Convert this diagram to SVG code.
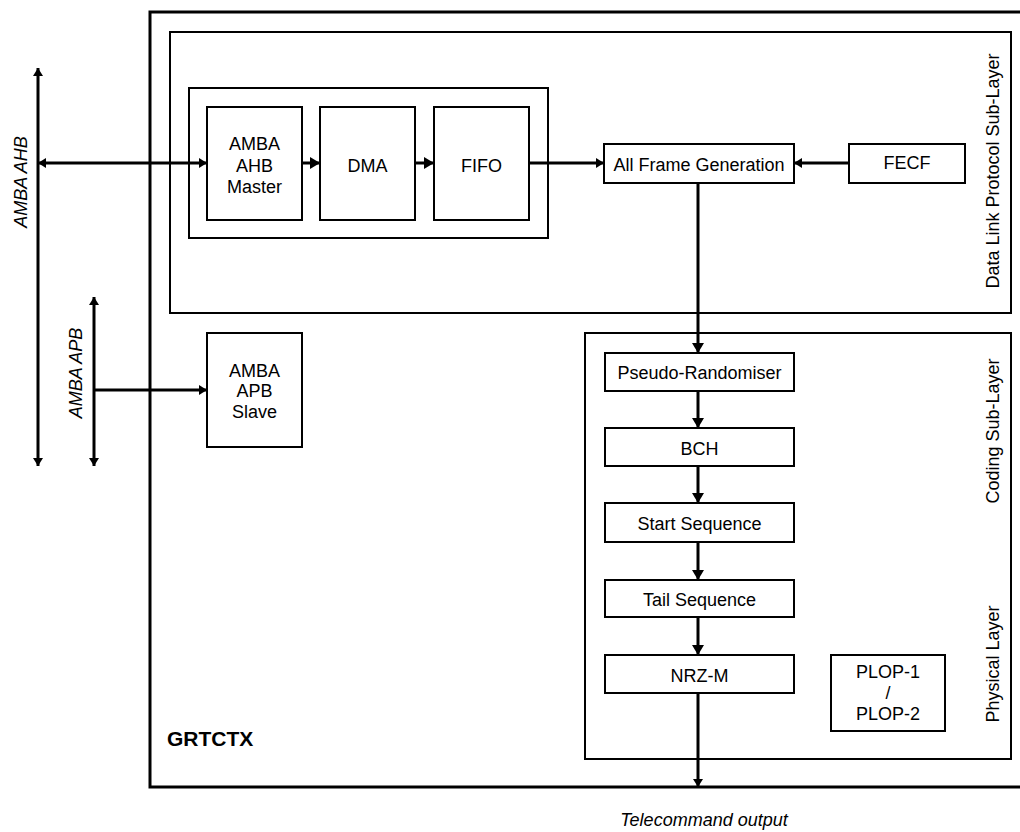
<svg xmlns="http://www.w3.org/2000/svg" width="1020" height="832" viewBox="0 0 1020 832">
<style>
  .box { fill: #fff; stroke: #000; stroke-width: 2; }
  .frame { fill: none; stroke: #000; stroke-width: 2; }
  .outer { fill: none; stroke: #000; stroke-width: 3; }
  .t { font-family: "Liberation Sans", Arial, sans-serif; font-size: 18px; fill: #000; text-anchor: middle; }
  .it { font-style: italic; }
  .b { font-weight: bold; font-size: 21px; text-anchor: start; }
  .ln { stroke: #000; stroke-width: 3; fill: none; }
</style>
<defs>
  <marker id="a" viewBox="0 0 10 12" refX="10" refY="6" markerWidth="10" markerHeight="12" markerUnits="userSpaceOnUse" orient="auto-start-reverse">
    <path d="M0,0 L10,6 L0,12 z" fill="#000"/>
  </marker>
  <marker id="s" viewBox="0 0 8 10" refX="8" refY="5" markerWidth="8" markerHeight="10" markerUnits="userSpaceOnUse" orient="auto-start-reverse">
    <path d="M0,0 L8,5 L0,10 z" fill="#000"/>
  </marker>
</defs>

<g id="grtctx">
  <rect class="outer" x="150" y="12" width="880" height="775"/>
  <text class="t b" x="167" y="746">GRTCTX</text>
</g>

<g id="datalink">
  <rect class="frame" x="170" y="32" width="841" height="281"/>
  <text class="t" transform="translate(999,171) rotate(-90)">Data Link Protocol Sub-Layer</text>
</g>

<g id="dmagroup">
  <rect class="frame" x="189" y="88" width="359" height="150"/>
</g>

<g id="codinglayer">
  <rect class="frame" x="585" y="333" width="426" height="426"/>
  <text class="t" transform="translate(999,431) rotate(-90)">Coding Sub-Layer</text>
  <text class="t" transform="translate(999,664) rotate(-90)">Physical Layer</text>
</g>

<g id="ahbbus">
  <text class="t it" transform="translate(27,182) rotate(-90)">AMBA AHB</text>
</g>
<g id="apbbus">
  <text class="t it" transform="translate(82,373) rotate(-90)">AMBA APB</text>
</g>

<g id="connectors">
  <line class="ln" x1="38" y1="466" x2="38" y2="68" marker-start="url(#s)" marker-end="url(#s)"/>
  <line class="ln" x1="94" y1="466" x2="94" y2="297" marker-start="url(#s)" marker-end="url(#s)"/>
  <line class="ln" x1="38" y1="163" x2="207" y2="163" marker-start="url(#s)" marker-end="url(#s)"/>
  <line class="ln" x1="94" y1="390" x2="207" y2="390" marker-end="url(#s)"/>
  <line class="ln" x1="302" y1="163" x2="320" y2="163" marker-end="url(#a)"/>
  <line class="ln" x1="415" y1="163" x2="434" y2="163" marker-end="url(#a)"/>
  <line class="ln" x1="529" y1="163" x2="604" y2="163" marker-end="url(#s)"/>
  <line class="ln" x1="849" y1="163" x2="794" y2="163" marker-end="url(#s)"/>
  <line class="ln" x1="698" y1="183" x2="698" y2="353" marker-end="url(#a)"/>
  <line class="ln" x1="698" y1="391" x2="698" y2="428" marker-end="url(#a)"/>
  <line class="ln" x1="698" y1="466" x2="698" y2="503" marker-end="url(#a)"/>
  <line class="ln" x1="698" y1="542" x2="698" y2="580" marker-end="url(#a)"/>
  <line class="ln" x1="698" y1="617" x2="698" y2="655" marker-end="url(#a)"/>
  <line class="ln" x1="698" y1="693" x2="698" y2="787" marker-end="url(#s)"/>
</g>

<g id="ahbmaster">
  <rect class="box" x="207" y="107" width="95" height="113"/>
  <text class="t" x="254.5" y="150">AMBA</text>
  <text class="t" x="254.5" y="172">AHB</text>
  <text class="t" x="254.5" y="193">Master</text>
</g>
<g id="dma">
  <rect class="box" x="320" y="107" width="95" height="113"/>
  <text class="t" x="367.5" y="172">DMA</text>
</g>
<g id="fifo">
  <rect class="box" x="434" y="107" width="95" height="113"/>
  <text class="t" x="481.5" y="172">FIFO</text>
</g>
<g id="allframe">
  <rect class="box" x="604" y="144" width="190" height="39"/>
  <text class="t" x="699" y="171">All Frame Generation</text>
</g>
<g id="fecf">
  <rect class="box" x="849" y="144" width="116" height="39"/>
  <text class="t" x="907" y="169">FECF</text>
</g>
<g id="apbslave">
  <rect class="box" x="207" y="333" width="95" height="114"/>
  <text class="t" x="254.5" y="377">AMBA</text>
  <text class="t" x="254.5" y="397">APB</text>
  <text class="t" x="254.5" y="418">Slave</text>
</g>
<g id="pseudo">
  <rect class="box" x="605" y="353" width="189" height="38"/>
  <text class="t" x="699.5" y="379">Pseudo-Randomiser</text>
</g>
<g id="bch">
  <rect class="box" x="605" y="428" width="189" height="38"/>
  <text class="t" x="699.5" y="455">BCH</text>
</g>
<g id="startseq">
  <rect class="box" x="605" y="503" width="189" height="39"/>
  <text class="t" x="699.5" y="530">Start Sequence</text>
</g>
<g id="tailseq">
  <rect class="box" x="605" y="580" width="189" height="37"/>
  <text class="t" x="699.5" y="606">Tail Sequence</text>
</g>
<g id="nrzm">
  <rect class="box" x="605" y="655" width="189" height="38"/>
  <text class="t" x="699.5" y="682">NRZ-M</text>
</g>
<g id="plop">
  <rect class="box" x="831" y="655" width="114" height="76"/>
  <text class="t" x="888" y="678">PLOP-1</text>
  <text class="t" x="888" y="699">/</text>
  <text class="t" x="888" y="720">PLOP-2</text>
</g>

<g id="output">
  <text class="t it" x="704" y="826">Telecommand output</text>
</g>
</svg>
